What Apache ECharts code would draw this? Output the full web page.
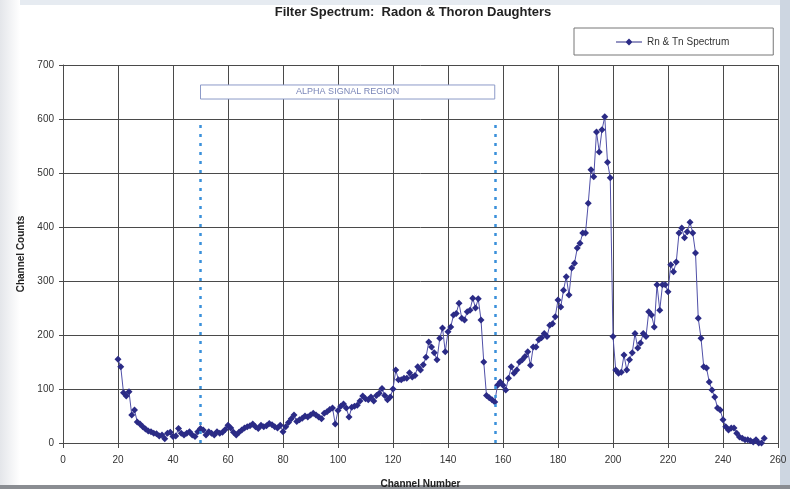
<!DOCTYPE html>
<html>
<head>
<meta charset="utf-8">
<script src="https://cdn.jsdelivr.net/npm/echarts@6/dist/echarts.min.js"></script>
<style>
html,body{margin:0;padding:0;background:#fff;}
#chart{width:790px;height:489px;}
</style>
</head>
<body>
<div id="chart"></div>
<script>
// Channel numbers start at 20 and run one per channel
var firstChannel = 20;
var counts = [
 155,141,93,87,95,52,61,39,35,30,26,22,21,18,17,13,15,8,18,20,
 12,13,27,18,15,18,21,15,12,21,27,24,15,21,18,15,21,18,
 20,25,33,28,20,15,20,24,28,30,32,35,30,27,33,30,32,36,34,30,
 28,33,21,30,38,45,52,40,43,46,50,48,52,55,52,48,45,55,58,62,
 65,35,60,68,72,65,48,66,68,70,78,87,82,80,85,78,88,92,101,88,
 80,85,100,135,117,
 117,120,120,130,122,125,141,135,145,159,187,178,167,154,194,213,169,206,215,237,
 240,259,231,228,243,246,268,250,267,228,150,88,84,80,76,107,113,107,98,120,
 141,129,135,150,154,160,169,144,178,178,191,195,203,197,218,221,234,265,252,283,
 308,274,324,333,361,370,389,389,444,506,493,576,539,580,604,520,491,
 197,135,129,131,163,135,154,167,203,176,185,203,197,243,237,215,293,246,293,293,
 280,330,317,335,389,398,380,391,409,389,352,231,194,141,139,113,98,85,65,61,
 43,30,24,28,28,18,11,9,6,6,4,2,6,0,0,9
];
var xTicks = {min:0, max:260, step:20};
var yTicks = {min:0, max:700, step:100};
var seriesName = 'Rn & Tn Spectrum';
var regionLabel = 'ALPHA SIGNAL REGION';
var regionStart = 50, regionEnd = 157, regionLineTop = 590;
var regionBox = {yLow:637, yHigh:663};

var points = counts.map(function(v,i){ return [firstChannel + i, v]; });

var chart = echarts.init(document.getElementById('chart'), null, {renderer:'canvas'});
var font = 'Liberation Sans, Arial, sans-serif';
var gridColor = '#4a4a4a';
chart.setOption({
  backgroundColor:'#ffffff',
  animation:false,
  title:{
    text:'Filter Spectrum:  Radon & Thoron Daughters',
    left:408, textAlign:'center', top:1,
    textStyle:{fontFamily:font, fontSize:13, fontWeight:'bold', color:'#222'}
  },
  legend:{
    left:574, top:28,
    padding:[9,44,8,42],
    borderColor:'#777', borderWidth:1,
    backgroundColor:'#fff',
    itemWidth:26, itemHeight:8, itemGap:4,
    textStyle:{fontFamily:font, fontSize:10, color:'#333'},
    data:[{name:seriesName, icon:'path://M0,3.5 L26,3.5 L26,4.5 L0,4.5 Z M13,0.5 L16.5,4 L13,7.5 L9.5,4 Z'}]
  },
  grid:{left:63, right:12, top:65, bottom:46, containLabel:false, outerBoundsMode:'none'},
  xAxis:{
    type:'value', min:xTicks.min, max:xTicks.max, interval:xTicks.step,
    name:'Channel Number', nameLocation:'middle', nameGap:36,
    nameTextStyle:{fontFamily:font, fontSize:10, fontWeight:'bold', color:'#222'},
    axisLine:{show:true, onZero:false, lineStyle:{color:gridColor, width:1}},
    axisTick:{show:true, length:5, lineStyle:{color:gridColor}},
    axisLabel:{fontFamily:font, fontSize:10, color:'#333', margin:12},
    splitLine:{show:true, lineStyle:{color:gridColor, width:1}}
  },
  yAxis:{
    type:'value', min:yTicks.min, max:yTicks.max, interval:yTicks.step,
    name:'Channel Counts', nameLocation:'middle', nameGap:36,
    nameTextStyle:{fontFamily:font, fontSize:10, fontWeight:'bold', color:'#222'},
    axisLine:{show:true, lineStyle:{color:gridColor, width:1}},
    axisTick:{show:true, length:4, lineStyle:{color:gridColor}},
    axisLabel:{fontFamily:font, fontSize:10, color:'#333', margin:9},
    splitLine:{show:true, lineStyle:{color:gridColor, width:1}}
  },
  series:[{
    name:seriesName, type:'line', data:points,
    symbol:'diamond', symbolSize:7, showSymbol:true,
    lineStyle:{color:'#5050a8', width:1},
    itemStyle:{color:'#2b2b86'},
    markLine:{
      silent:true, symbol:['none','none'], label:{show:false},
      lineStyle:{color:'#3a90da', width:2.5, type:[3,6]},
      data:[
        [{coord:[regionStart,0]},{coord:[regionStart,regionLineTop]}],
        [{coord:[regionEnd,0]},{coord:[regionEnd,regionLineTop]}]
      ]
    },
    markArea:{
      silent:true,
      itemStyle:{color:'#ffffff', borderColor:'#8c9ac8', borderWidth:1},
      label:{show:true, position:'inside', color:'#7a86b8', fontFamily:font, fontSize:9},
      data:[[{name:regionLabel, coord:[regionStart, regionBox.yLow]},{coord:[regionEnd, regionBox.yHigh]}]]
    }
  }],
  graphic:[
    {type:'rect', left:0, top:0, shape:{width:790, height:5}, style:{fill:'#e6ebf1'}, z:-1},
    {type:'rect', left:0, top:0, shape:{width:20, height:489},
      style:{fill:new echarts.graphic.LinearGradient(0,0,1,0,[{offset:0,color:'#e4e6ea'},{offset:1,color:'#ffffff'}])}, z:-1},
    {type:'rect', right:0, top:0, shape:{width:10, height:489}, style:{fill:'#cdd6e1'}, z:-1},
    {type:'rect', left:0, bottom:0, shape:{width:790, height:4}, style:{fill:'#8a8d92'}, z:-1}
  ]
});
</script>
</body>
</html>
